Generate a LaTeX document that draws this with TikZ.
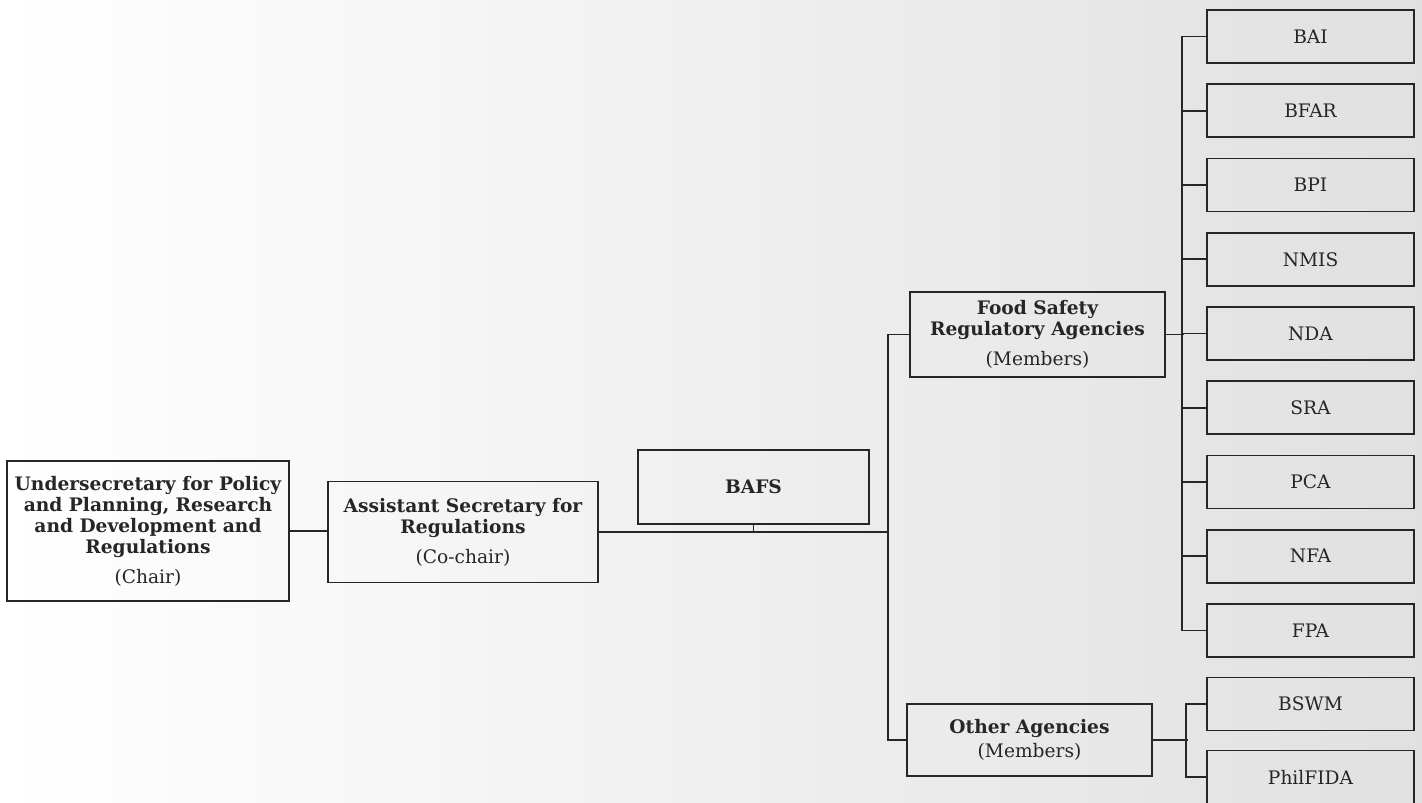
\documentclass[tikz,border=0pt]{standalone}
\usepackage{fontspec}
\setmainfont{DejaVu Serif}
\usetikzlibrary{positioning,calc}

\tikzset{
  unit/.style={draw=black!85, line width=0.9pt, align=center, inner sep=2pt,
    text=black!85, font=\fontsize{10.6}{12.5}\selectfont},
  head/.style={unit, font=\fontsize{10.6}{12}\selectfont\bfseries},
  agency/.style={unit, minimum width=4.14cm, minimum height=1.06cm},
  link/.style={draw=black!85, line width=1pt}
}

\begin{document}
\begin{tikzpicture}[x=0.02cm, y=-0.02cm]
  \shade[left color=white, right color=black!12] (0,0) rectangle (1422,803);
  \useasboundingbox (0,0) rectangle (1422,803);
  \node[head, minimum width=5.64cm, minimum height=2.8cm] (usec) at (148,531)
    {Undersecretary for Policy\\and Planning, Research\\and Development and\\Regulations\\[5pt]{\mdseries (Chair)}};
  \node[head, minimum width=5.4cm, minimum height=2.02cm] (asec) at (463,532)
    {Assistant Secretary for\\Regulations\\[5pt]{\mdseries (Co-chair)}};
  \node[head, minimum width=4.62cm, minimum height=1.48cm] (bafs) at (753.5,487) {BAFS};
  \node[head, minimum width=5.1cm, minimum height=1.7cm] (fsra) at (1037.5,334.5)
    {Food Safety\\Regulatory Agencies\\[5pt]{\mdseries (Members)}};
  \node[head, minimum width=4.9cm, minimum height=1.44cm] (other) at (1029.5,740)
    {Other Agencies\\[2pt]{\mdseries (Members)}};
  \coordinate (hub) at (888,532);
  % food safety regulatory agencies
  \foreach \name [count=\i from 0] in {BAI,BFAR,BPI,NMIS,NDA,SRA,PCA,NFA,FPA}
    \node[agency] (\name) at (1310.5,36.5+74.25*\i) {\name};
  % other agencies
  \node[agency] (BSWM) at (1310.5,704) {BSWM};
  \node[agency] (PhilFIDA) at (1310.5,777) {PhilFIDA};
  % connectors
  \draw[link] (usec.east) -- (usec.east -| asec.west);
  \draw[link] (asec.east) -- (hub);
  \draw[link] (bafs.south) -- (bafs.south |- hub);
  \draw[link] (fsra.west) -| (hub) |- (other.west);
  \draw[link] (fsra.east) -- ++(18,0);
  \draw[link] (BAI.west) -- ++(-24,0) |- (FPA.west);
  \foreach \name in {BFAR,BPI,NMIS,NDA,SRA,PCA,NFA}
    \draw[link] (\name.west) -- ++(-24,0);
  \draw[link] (other.east) -- ++(35,0);
  \draw[link] (BSWM.west) -- ++(-20,0) |- (PhilFIDA.west);
\end{tikzpicture}
\end{document}
